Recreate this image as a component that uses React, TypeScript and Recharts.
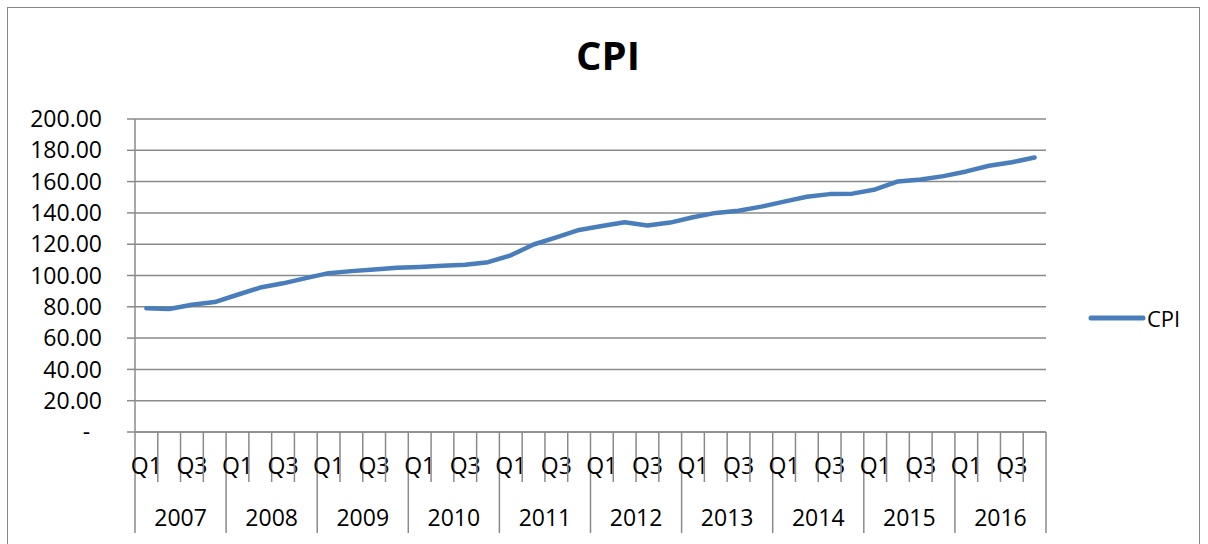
import React from "react";
import { LineChart, Line, XAxis, YAxis, CartesianGrid } from "recharts";

const YEARS = ["2007", "2008", "2009", "2010", "2011", "2012", "2013", "2014", "2015", "2016"];
const QUARTERS = ["Q1", "Q2", "Q3", "Q4"];
const CPI = [
  79.0, 78.6, 81.3, 83.0,
  87.7, 92.3, 95.0, 98.3,
  101.5, 102.8, 103.8, 104.9,
  105.5, 106.2, 106.8, 108.5,
  112.9, 119.8, 124.4, 129.1,
  131.6, 134.0, 132.0, 133.8,
  137.2, 140.0, 141.4, 144.0,
  147.2, 150.3, 152.0, 152.3,
  155.0, 160.1, 161.4, 163.5,
  166.5, 170.1, 172.4, 175.4,
];
const Y_TICKS = [0, 20, 40, 60, 80, 100, 120, 140, 160, 180, 200];

const data = CPI.map((v, i) => ({
  key: YEARS[Math.floor(i / 4)] + " " + QUARTERS[i % 4],
  quarter: QUARTERS[i % 4],
  year: YEARS[Math.floor(i / 4)],
  CPI: v,
}));

const FONT = "'Open Sans', sans-serif";
const GRID = "#8a8a8a";
const BLUE = "#4a7ebb";
const PLOT_W = 911;
const BAND = PLOT_W / CPI.length;

// category axis: ticks sit on the band edges, Q1/Q3 labels, year row below
function QuarterTick(props: any) {
  const { x, y, payload } = props;
  const i: number = props.index ?? payload.index;
  const left = x - BAND / 2;
  const isYearStart = i % 4 === 0;
  const isLast = i === CPI.length - 1;
  return (
    <g>
      <line x1={left} x2={left} y1={y} y2={y + (isYearStart ? 101 : 50)} stroke={GRID} strokeWidth={1.5} />
      {isLast && (
        <line x1={x + BAND / 2} x2={x + BAND / 2} y1={y} y2={y + 101} stroke={GRID} strokeWidth={1.5} />
      )}
      {i % 2 === 0 && (
        <text x={x} y={y + 42} textAnchor="middle" fontSize={23} fontFamily={FONT} fill="#000">
          {data[i].quarter}
        </text>
      )}
      {isYearStart && (
        <text x={left + BAND * 2} y={y + 94} textAnchor="middle" fontSize={23} fontFamily={FONT} fill="#000">
          {data[i].year}
        </text>
      )}
    </g>
  );
}

export default function App() {
  return (
    <div style={{ position: "absolute", left: 0, top: 0, width: 1208, height: 544, overflow: "hidden", background: "#fff" }}>
      <div
        style={{
          position: "absolute",
          left: 7,
          top: 7,
          width: 1193,
          height: 600,
          border: "1.5px solid #888",
          boxSizing: "border-box",
        }}
      />
      <div
        style={{
          position: "absolute",
          left: 0,
          width: 1216,
          top: 35,
          textAlign: "center",
          fontFamily: FONT,
          fontWeight: 700,
          fontSize: 40,
          lineHeight: "40px",
        }}
      >
        CPI
      </div>
      <LineChart width={1208} height={544} data={data} margin={{ top: 119, right: 162, bottom: 0, left: 0 }}>
        <CartesianGrid vertical={false} stroke={GRID} strokeWidth={1.5} />
        <XAxis
          dataKey="key"
          scale="band"
          height={112}
          interval={0}
          tickSize={0}
          tickMargin={0}
          tickLine={false}
          axisLine={{ stroke: GRID, strokeWidth: 1.5 }}
          tick={<QuarterTick />}
        />
        <YAxis
          width={135}
          domain={[0, 200]}
          ticks={Y_TICKS}
          interval={0}
          tickSize={8}
          tickMargin={25}
          tickLine={{ stroke: GRID, strokeWidth: 1.5 }}
          axisLine={{ stroke: GRID, strokeWidth: 1.5 }}
          tick={{ fontSize: 23, fontFamily: FONT, fill: "#000" }}
          tickFormatter={(v: number) => (v === 0 ? "-\u00A0\u00A0" : v.toFixed(2))}
        />
        <Line
          type="linear"
          dataKey="CPI"
          stroke={BLUE}
          strokeWidth={4.5}
          strokeLinejoin="round"
          strokeLinecap="round"
          dot={false}
          isAnimationActive={false}
        />
      </LineChart>
      <div style={{ position: "absolute", left: 1088, top: 304, display: "flex", alignItems: "center", fontFamily: FONT, fontSize: 22 }}>
        <svg width={58} height={10} style={{ display: "block" }}>
          <line x1={3} x2={55} y1={5} y2={5} stroke={BLUE} strokeWidth={5} strokeLinecap="round" />
        </svg>
        <span style={{ marginLeft: 1, lineHeight: "28px" }}>CPI</span>
      </div>
    </div>
  );
}
